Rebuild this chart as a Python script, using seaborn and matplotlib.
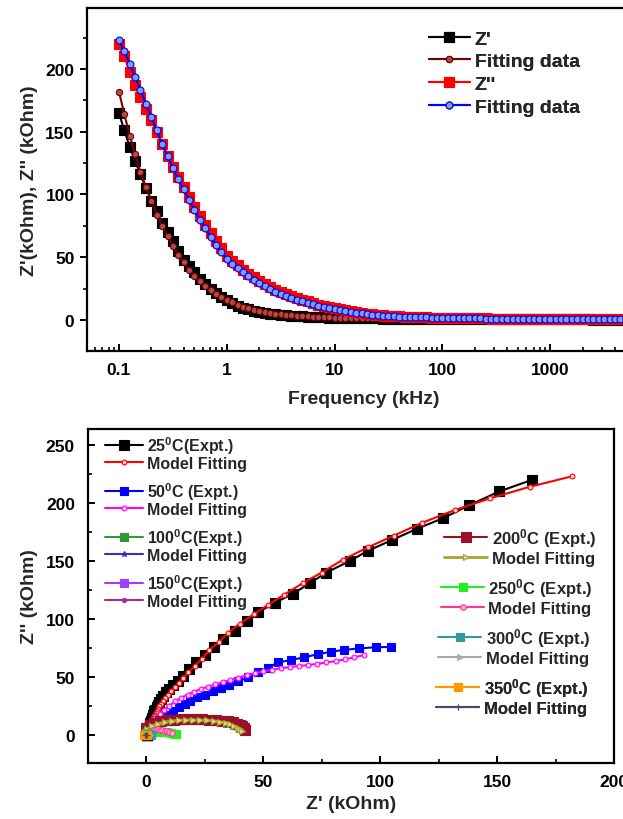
"""
Impedance spectra: Z', Z'' vs frequency and Nyquist plot at different temperatures
"""

import numpy as np
import pandas as pd
import matplotlib
matplotlib.use("Agg")
import matplotlib.pyplot as plt
from matplotlib.ticker import MultipleLocator, LogLocator, NullFormatter
import seaborn as sns

# ─── Data: 25 C spectrum (frequency in kHz, impedance in kOhm) ──────────────
freq_khz = [
    0.1, 0.112, 0.126, 0.141, 0.158, 0.178, 0.2, 0.224, 0.251, 0.282,
    0.316, 0.355, 0.398, 0.447, 0.501, 0.562, 0.631, 0.708, 0.794, 0.891,
    1, 1.12, 1.26, 1.41, 1.58, 1.78, 2, 2.24, 2.51, 2.82,
    3.16, 3.55, 3.98, 4.47, 5.01, 5.62, 6.31, 7.08, 7.94, 8.91,
    10, 11.2, 12.6, 14.1, 15.8, 17.8, 20, 22.4, 25.1, 28.2,
    31.6, 35.5, 39.8, 44.7, 50.1, 56.2, 63.1, 70.8, 79.4, 89.1,
    100, 112, 126, 141, 158, 178, 200, 224, 251, 282,
    316, 355, 398, 447, 501, 562, 631, 708, 794, 891,
    1000, 1120, 1260, 1410, 1580, 1780, 2000, 2240, 2510, 2820,
    3160, 3550, 3980, 4470, 5010, 5620, 6310,
]
z_re = [
    165, 151, 138, 127, 116, 105, 95, 87, 77, 70,
    63, 55, 48, 43, 38, 33, 29, 25, 21.5, 18.5,
    16, 13.5, 11.5, 9.8, 8.4, 7.3, 6.4, 5.6, 5.0, 4.5,
    4.0, 3.6, 3.3, 3.0, 2.8, 2.6, 2.4, 2.2, 2.0, 1.9,
    1.8, 1.7, 1.6, 1.5, 1.4, 1.35, 1.3, 1.25, 1.2, 1.15,
    1.1, 1.05, 1.0, 0.97, 0.94, 0.91, 0.88, 0.85, 0.82, 0.8,
    0.78, 0.76, 0.74, 0.72, 0.7, 0.68, 0.66, 0.64, 0.62, 0.6,
    0.58, 0.56, 0.55, 0.54, 0.53, 0.52, 0.51, 0.5, 0.49, 0.48,
    0.47, 0.46, 0.45, 0.44, 0.43, 0.42, 0.41, 0.4, 0.39, 0.38,
    0.37, 0.36, 0.35, 0.34, 0.33, 0.32, 0.31,
]
z_re_fit = [
    182, 164, 147, 132, 118, 106, 95, 84, 75, 67,
    59, 52, 46, 40, 35, 31, 27, 24, 21, 18,
    16, 14, 12.2, 10.6, 9.3, 8.2, 7.2, 6.4, 5.7, 5.1,
    4.6, 4.1, 3.7, 3.4, 3.1, 2.8, 2.6, 2.4, 2.2, 2.05,
    1.9, 1.8, 1.7, 1.6, 1.5, 1.42, 1.35, 1.28, 1.22, 1.16,
    1.1, 1.05, 1.0, 0.96, 0.92, 0.88, 0.85, 0.82, 0.79, 0.76,
    0.74, 0.72, 0.7, 0.68, 0.66, 0.64, 0.62, 0.6, 0.58, 0.57,
    0.56, 0.55, 0.54, 0.53, 0.52, 0.51, 0.5, 0.49, 0.48, 0.47,
    0.46, 0.45, 0.44, 0.43, 0.42, 0.41, 0.4, 0.39, 0.38, 0.37,
    0.36, 0.35, 0.34, 0.33, 0.32, 0.31, 0.3,
]
z_im = [
    220, 210, 198, 187, 178, 168, 159, 150, 140, 131,
    122, 114, 106, 98, 90, 83, 76, 69, 63, 57,
    51, 47, 43.5, 40, 37, 34, 31, 28.5, 26, 24,
    22, 20.5, 19, 17.5, 16, 14.8, 13.5, 12.3, 11.2, 10.2,
    9.3, 8.5, 7.7, 7.0, 6.3, 5.7, 5.1, 4.6, 4.1, 3.7,
    3.4, 3.1, 2.9, 2.7, 2.5, 2.35, 2.2, 2.05, 1.95, 1.85,
    1.75, 1.65, 1.58, 1.5, 1.44, 1.38, 1.32, 1.26, 1.2, 1.15,
    1.1, 1.06, 1.02, 0.98, 0.94, 0.9, 0.87, 0.84, 0.81, 0.78,
    0.75, 0.72, 0.7, 0.68, 0.66, 0.64, 0.62, 0.6, 0.58, 0.56,
    0.54, 0.52, 0.5, 0.48, 0.46, 0.44, 0.42,
]
z_im_fit = [
    223, 214, 204, 194, 183, 172, 162, 151, 140, 131,
    121, 112, 104, 96, 88, 80, 73, 66, 60, 54,
    49, 45, 41.5, 38, 35, 32, 29.5, 27, 24.7, 22.6,
    20.7, 19.1, 17.6, 16.2, 14.9, 13.7, 12.5, 11.4, 10.4, 9.5,
    8.7, 7.9, 7.2, 6.5, 5.9, 5.3, 4.8, 4.3, 3.9, 3.5,
    3.2, 2.95, 2.75, 2.55, 2.4, 2.25, 2.1, 2.0, 1.9, 1.8,
    1.7, 1.62, 1.55, 1.48, 1.42, 1.36, 1.3, 1.24, 1.18, 1.13,
    1.08, 1.04, 1.0, 0.96, 0.92, 0.89, 0.86, 0.83, 0.8, 0.77,
    0.74, 0.71, 0.69, 0.67, 0.65, 0.63, 0.61, 0.59, 0.57, 0.55,
    0.53, 0.51, 0.49, 0.47, 0.45, 0.43, 0.41,
]

# ─── Data: Nyquist arcs at higher temperatures (kOhm) ───────────────────────
z50_re = [0.5, 1.5, 3, 4.7, 6.5, 8.9, 11.5, 14, 16.5, 19, 22, 25, 28.5, 32,
          35.5, 39.5, 43.7, 48, 52, 56.5, 61.8, 67.5, 73.6, 78.9, 84.6, 91.2,
          98.3, 104.9]
z50_im = [2.5, 5, 8, 11, 14, 17.5, 21, 24, 27, 29.5, 32.5, 35, 38, 41,
          43.5, 46.5, 50, 54, 58, 62.7, 64.7, 67, 69.8, 71.8, 73.5, 74.7,
          75.8, 76]
z50_fit_re = [0.3, 1.2, 2.5, 4, 5.8, 7.8, 10, 12.5, 15, 17.8, 20.6, 23.5,
              26.5, 29.6, 32.8, 36.1, 39.5, 43, 46.5, 50.2, 53.9, 57.6, 61.4,
              65.2, 69.1, 73, 77, 81, 85, 89, 93]
z50_fit_im = [4, 8, 11.5, 15, 18.5, 22, 25.5, 29, 32, 35, 37.5, 39.8, 41.8,
              43.7, 45.6, 47.6, 49.6, 51.6, 53.4, 55, 56.4, 57.6, 58.6, 59.5,
              60.4, 61.4, 62.6, 63.8, 65.3, 67, 69]

z100_re = [0, 3, 7, 11, 15, 19, 23, 27, 31, 34.5, 37.5, 40]
z100_im = [5, 9, 11.5, 12.6, 13.1, 13.3, 13.2, 12.8, 12, 10.8, 9, 6.5]
z100_fit_re = [0.5, 4, 8, 12, 16, 20, 24, 28, 32, 35.5, 38.5]
z100_fit_im = [5, 9.5, 11.6, 12.6, 13, 13.1, 12.9, 12.4, 11.4, 9.8, 7.5]
z150_re = [0, 3, 7, 11, 15, 19, 23, 27, 31, 34.5, 37.5, 40.5]
z150_im = [5.5, 9.5, 11.8, 12.9, 13.4, 13.5, 13.4, 13, 12.2, 11, 9.2, 6.5]
z150_fit_re = [0.5, 4, 8, 12, 16, 20, 24, 28, 32, 35.5, 38.5]
z150_fit_im = [5, 9.3, 11.4, 12.4, 12.9, 13, 12.8, 12.3, 11.3, 9.7, 7.5]

z200_re = [0, 1.5, 3.5, 6, 9, 12, 15, 18, 21, 24, 27, 30, 32.5, 35, 37,
           38.8, 40.2, 41.2, 42, 42.4]
z200_im = [6, 8.5, 10.5, 11.8, 12.7, 13.3, 13.6, 13.8, 13.8, 13.7, 13.4, 13,
           12.5, 11.8, 11, 10, 8.8, 7.5, 6, 4.5]
z200_fit_re = [0.5, 2.5, 5, 8, 11, 14, 17, 20, 23, 26, 29, 31.5, 34, 36,
               37.8, 39.2, 40.3, 41]
z200_fit_im = [5, 8, 10, 11.3, 12.2, 12.8, 13.1, 13.2, 13.1, 12.8, 12.2,
               11.5, 10.5, 9.3, 8, 6.5, 5, 3.5]

z250_re = [0, 1.5, 3, 4.5, 6, 7.5, 9, 10.5, 12, 13]
z250_im = [1.5, 2.2, 2.6, 2.8, 2.8, 2.6, 2.3, 1.9, 1.4, 1.0]
z250_fit_re = [1, 2, 3, 4, 5, 6, 7, 8, 9, 10, 11]
z250_fit_im = [2, 3.3, 4.2, 4.7, 4.9, 4.8, 4.5, 4, 3.3, 2.5, 1.6]

z300_re = [0, 0.5, 1, 1.5, 2]
z300_im = [0.3, 0.7, 0.9, 0.7, 0.3]
z300_fit_re = [0.1, 0.6, 1.1, 1.6]
z300_fit_im = [0.4, 0.8, 0.8, 0.4]
z350_re = [-0.8, -0.3, 0.2, 0.6]
z350_im = [0.1, 0.3, 0.3, 0.1]
z350_fit_re = [-0.5, 0, 0.4]
z350_fit_im = [0.2, 0.3, 0.2]

# ─── Style ──────────────────────────────────────────────────────────────────
W, H = 623, 820
sns.set_style("ticks")
plt.rcParams.update({
    "font.family": ["Liberation Sans", "DejaVu Sans"],
    "font.weight": "bold",
    "axes.labelweight": "bold",
    "mathtext.fontset": "custom",
    "mathtext.rm": "Liberation Sans:bold",
    "mathtext.it": "Liberation Sans:bold",
    "mathtext.bf": "Liberation Sans:bold",
    "axes.linewidth": 1.6,
    "axes.edgecolor": "black",
    "xtick.color": "black",
    "ytick.color": "black",
})

fig = plt.figure(figsize=(W / 100, H / 100), dpi=100)
ax1 = fig.add_axes([87 / W, 1 - 352 / H, (640 - 87) / W, (352 - 9) / H])
ax2 = fig.add_axes([87.5 / W, 1 - 764 / H, (614 - 87.5) / W, (764 - 430) / H])


def draw(ax, x, y, color, marker, ms, mfc=None, mec=None, lw=1.5, ls="-"):
    df = pd.DataFrame({"x": x, "y": y})
    sns.lineplot(data=df, x="x", y="y", ax=ax, sort=False, estimator=None,
                 color=color, marker=marker, markersize=ms, linewidth=lw,
                 linestyle=ls, markerfacecolor=mfc or color,
                 markeredgecolor=mec or color, markeredgewidth=0.8,
                 legend=False)
    return ax.lines[-1]


def pair_legend(ax, handles, labels, x_px, y_px, size, spacing, hlen):
    leg = ax.legend(handles, labels, loc="upper left",
                    bbox_to_anchor=(x_px / W, 1 - y_px / H),
                    bbox_transform=fig.transFigure, frameon=False,
                    prop={"weight": "bold", "size": size},
                    handlelength=hlen, handletextpad=0.25, borderpad=0,
                    borderaxespad=0, labelspacing=spacing, numpoints=1)
    ax.add_artist(leg)


# ─── Top: Z', Z'' vs frequency ──────────────────────────────────────────────
ax1.set_xscale("log")
h1 = draw(ax1, freq_khz, z_re, "black", "s", 6.5)
h2 = draw(ax1, freq_khz, z_re_fit, "#7a0000", "o", 4.5, mfc="#b24a4a", mec="#6a0000")
h3 = draw(ax1, freq_khz, z_im, "#ff0000", "s", 7)
h4 = draw(ax1, freq_khz, z_im_fit, "#0000ff", "o", 5, mfc="#7f9bff", mec="#0000e0")

ax1.set_xlim(0.0505, 6800)
ax1.set_ylim(-24.7, 248.6)
ax1.set_xticks([0.1, 1, 10, 100, 1000], labels=["0.1", "1", "10", "100", "1000"])
ax1.xaxis.set_minor_locator(LogLocator(base=10, subs=np.arange(2, 10), numticks=20))
ax1.xaxis.set_minor_formatter(NullFormatter())
ax1.yaxis.set_minor_locator(MultipleLocator(25))
ax1.set_yticks([0, 50, 100, 150, 200])
ax1.tick_params(axis="x", which="both", direction="in", pad=8, labelsize=12.5)
ax1.tick_params(axis="y", which="both", direction="out", pad=4, labelsize=12.5)
ax1.tick_params(which="major", length=5, width=1.4)
ax1.tick_params(which="minor", length=3, width=1.2)
ax1.set_xlabel("Frequency (kHz)", fontsize=14, fontweight="bold", labelpad=9)
ax1.set_ylabel("Z'(kOhm), Z'' (kOhm)", fontsize=14, fontweight="bold", labelpad=5)
ax1.spines["right"].set_visible(False)
for t in ax1.get_xticklabels() + ax1.get_yticklabels():
    t.set_fontweight("bold")

pair_legend(ax1, [h1, h2, h3, h4], ["Z'", "Fitting data", "Z''", "Fitting data"],
            429, 31, 14, 0.26, 2.1)

# ─── Bottom: Nyquist plot ───────────────────────────────────────────────────
n = []
n.append(draw(ax2, z_re, z_im, "black", "s", 6.5))
n.append(draw(ax2, z_re_fit, z_im_fit, "#ff0000", "o", 3.5, mfc="#ffd0d0", mec="#ff0000"))
n.append(draw(ax2, z50_re, z50_im, "#0000ff", "s", 6))
n.append(draw(ax2, z50_fit_re, z50_fit_im, "#ff00ff", "o", 3.5, mfc="#ffd0ff", mec="#ff00ff"))
n.append(draw(ax2, z100_re, z100_im, "#339933", "s", 6))
n.append(draw(ax2, z100_fit_re, z100_fit_im, "#3333aa", "*", 4))
n.append(draw(ax2, z150_re, z150_im, "#a040ff", "s", 6))
n.append(draw(ax2, z150_fit_re, z150_fit_im, "#993399", "o", 3))
n.append(draw(ax2, z200_re, z200_im, "#99102a", "s", 6.5))
n.append(draw(ax2, z200_fit_re, z200_fit_im, "#a8a52a", ">", 4.5, mfc="#d8d890", mec="#a8a52a", lw=2))
n.append(draw(ax2, z250_re, z250_im, "#22ee22", "s", 6))
n.append(draw(ax2, z250_fit_re, z250_fit_im, "#ff3399", "o", 4, mfc="#ffb0d0", mec="#ff3399"))
n.append(draw(ax2, z300_re, z300_im, "#339999", "s", 6))
n.append(draw(ax2, z300_fit_re, z300_fit_im, "#aaaaaa", ">", 4))
n.append(draw(ax2, z350_re, z350_im, "#ff9900", "s", 6))
n.append(draw(ax2, z350_fit_re, z350_fit_im, "#554466", "+", 4))

ax2.set_xlim(-25, 200)
ax2.set_ylim(-24, 263.8)
ax2.xaxis.set_minor_locator(MultipleLocator(25))
ax2.yaxis.set_minor_locator(MultipleLocator(25))
ax2.set_xticks([0, 50, 100, 150, 200])
ax2.set_yticks([0, 50, 100, 150, 200, 250])
ax2.tick_params(which="both", direction="in", labelsize=12.5)
ax2.tick_params(axis="x", pad=8)
ax2.tick_params(axis="y", pad=9)
ax2.tick_params(which="major", length=5, width=1.4)
ax2.tick_params(which="minor", length=3, width=1.2)
ax2.set_xlabel("Z' (kOhm)", fontsize=14, fontweight="bold", labelpad=4)
ax2.set_ylabel("Z'' (kOhm)", fontsize=14, fontweight="bold", labelpad=6)
for t in ax2.get_xticklabels() + ax2.get_yticklabels():
    t.set_fontweight("bold")

mf = "Model Fitting"
pair_legend(ax2, n[0:2], ["25$^0$C(Expt.)", mf], 105, 435, 11.5, 0.02, 2.4)
pair_legend(ax2, n[2:4], ["50$^0$C (Expt.)", mf], 105, 481, 11.5, 0.02, 2.4)
pair_legend(ax2, n[4:6], ["100$^0$C(Expt.)", mf], 105, 527, 11.5, 0.02, 2.4)
pair_legend(ax2, n[6:8], ["150$^0$C(Expt.)", mf], 105, 573, 11.5, 0.02, 2.4)
pair_legend(ax2, n[8:10], ["200$^0$C (Expt.)", mf], 444, 527, 12, 0.12, 2.6)
pair_legend(ax2, n[10:12], ["250$^0$C (Expt.)", mf], 441, 577, 12, 0.12, 2.6)
pair_legend(ax2, n[12:14], ["300$^0$C (Expt.)", mf], 438, 627, 12, 0.12, 2.6)
pair_legend(ax2, n[14:16], ["350$^0$C (Expt.)", mf], 436, 677, 12, 0.12, 2.6)

fig.savefig("out.png", dpi=100, facecolor="white")
plt.close(fig)
